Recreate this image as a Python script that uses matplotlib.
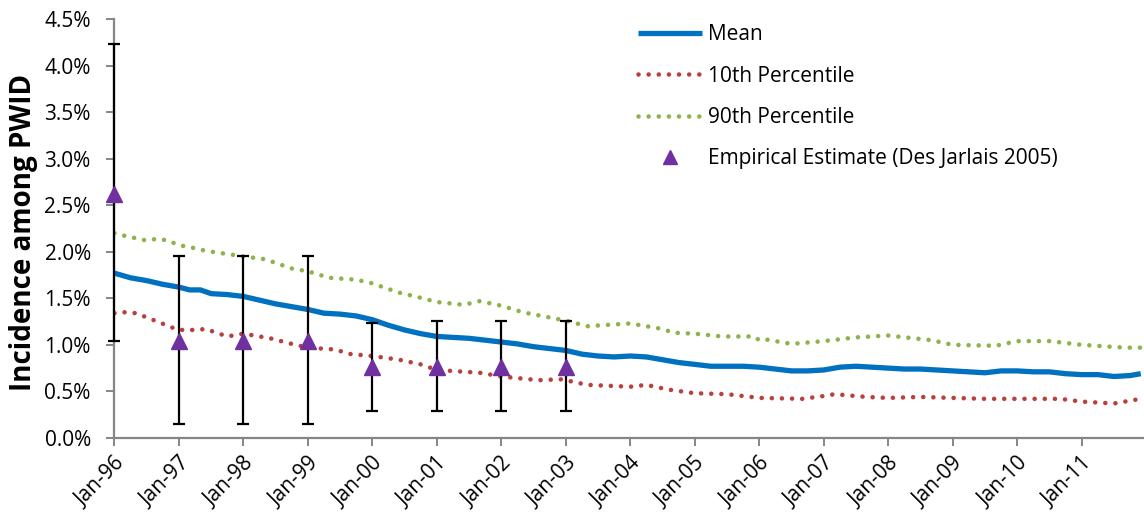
import matplotlib

matplotlib.use("Agg")
import matplotlib.pyplot as plt
from matplotlib.ticker import FuncFormatter, MultipleLocator

plt.rcParams["font.family"] = ["Open Sans", "DejaVu Sans"]

# months since Jan-1996
mean_month = [0, 3, 6, 9, 12, 14, 16, 18, 21, 24, 27, 30, 33, 36, 39, 42, 45, 48, 51, 54,
              57, 60, 63, 66, 69, 72, 75, 78, 81, 84, 87, 90, 93, 96, 99, 102, 105, 108, 111,
              114, 117, 120, 123, 126, 129, 132, 135, 138, 141, 144, 147, 150, 153, 156, 159,
              162, 165, 168, 171, 174, 177, 180, 183, 186, 189, 191]
mean_val = [1.77, 1.72, 1.69, 1.65, 1.62, 1.59, 1.59, 1.55, 1.54, 1.52, 1.48, 1.44, 1.41, 1.38,
            1.34, 1.33, 1.31, 1.27, 1.21, 1.16, 1.12, 1.09, 1.08, 1.07, 1.05, 1.03, 1.01, 0.98,
            0.96, 0.94, 0.90, 0.88, 0.87, 0.88, 0.87, 0.84, 0.81, 0.79, 0.77, 0.77, 0.77, 0.76,
            0.74, 0.72, 0.72, 0.73, 0.76, 0.77, 0.76, 0.75, 0.74, 0.74, 0.73, 0.72, 0.71, 0.70,
            0.72, 0.72, 0.71, 0.71, 0.69, 0.68, 0.68, 0.66, 0.67, 0.69]

p10_month = [0, 2, 4, 8, 11, 12, 15, 17, 21, 24, 29, 33, 36, 41, 44, 48, 53, 57, 60, 68, 72,
             79, 83, 84, 88, 96, 99, 103, 108, 114, 120, 128, 132, 134, 140, 144, 150, 156,
             162, 168, 176, 180, 186, 190]
p10_val = [1.34, 1.35, 1.34, 1.25, 1.18, 1.16, 1.16, 1.17, 1.09, 1.12, 1.07, 1.01, 0.97, 0.95,
           0.90, 0.88, 0.84, 0.79, 0.73, 0.70, 0.66, 0.62, 0.63, 0.62, 0.57, 0.55, 0.57, 0.52,
           0.48, 0.47, 0.43, 0.42, 0.45, 0.47, 0.44, 0.43, 0.44, 0.43, 0.42, 0.42, 0.42, 0.39,
           0.37, 0.41]

p90_month = [0, 2, 6, 8, 10, 12, 14, 17, 24, 28, 33, 36, 40, 45, 48, 53, 56, 60, 65, 68, 72,
             76, 84, 88, 96, 102, 104, 108, 113, 119, 120, 121, 126, 132, 138, 144, 152, 156,
             164, 168, 174, 180, 188, 191]
p90_val = [2.20, 2.17, 2.12, 2.14, 2.12, 2.07, 2.05, 2.01, 1.95, 1.92, 1.82, 1.79, 1.72, 1.70,
           1.66, 1.56, 1.52, 1.46, 1.43, 1.47, 1.42, 1.35, 1.26, 1.20, 1.23, 1.17, 1.13, 1.12,
           1.09, 1.09, 1.05, 1.06, 1.01, 1.04, 1.08, 1.10, 1.05, 1.00, 0.99, 1.04, 1.04, 1.00,
           0.97, 0.97]

# Des Jarlais 2005 estimates with ranges
emp_month = [0, 12, 24, 36, 48, 60, 72, 84]
emp_val = [2.62, 1.04, 1.04, 1.04, 0.76, 0.76, 0.76, 0.76]
emp_low = [1.04, 0.15, 0.15, 0.15, 0.29, 0.29, 0.29, 0.29]
emp_high = [4.23, 1.95, 1.95, 1.95, 1.23, 1.26, 1.26, 1.26]

tick_labels = ["Jan-96", "Jan-97", "Jan-98", "Jan-99", "Jan-00", "Jan-01", "Jan-02", "Jan-03",
               "Jan-04", "Jan-05", "Jan-06", "Jan-07", "Jan-08", "Jan-09", "Jan-10", "Jan-11"]

fig = plt.figure(figsize=(11.44, 5.14), dpi=100)
ax = fig.add_axes([0.1, 0.148, 0.9, 0.815])

dots = (0, (0.01, 2.2))
ax.plot(mean_month, mean_val, color="#0070C0", lw=3.8, label="Mean", solid_capstyle="butt")
ax.plot(p10_month, p10_val, color="#B8413E", lw=3.3, linestyle=dots, dash_capstyle="round",
        label="10th Percentile")
ax.plot(p90_month, p90_val, color="#8DB34A", lw=3.3, linestyle=dots, dash_capstyle="round",
        label="90th Percentile")

yerr = [[v - lo for v, lo in zip(emp_val, emp_low)], [hi - v for v, hi in zip(emp_val, emp_high)]]
eb = ax.errorbar(emp_month, emp_val, yerr=yerr, fmt="none", ecolor="black", elinewidth=1.6,
                 capsize=4, capthick=1.6, zorder=4)
for part in eb.lines[1] + eb.lines[2]:
    part.set_clip_on(False)
ax.plot(emp_month, emp_val, "^", color="#7030A0", ms=12, ls="none", zorder=5, clip_on=False,
        label="Empirical Estimate (Des Jarlais 2005)")

ax.set_xlim(0, 191.6)
ax.set_ylim(0, 4.5)
ax.yaxis.set_major_locator(MultipleLocator(0.5))
ax.yaxis.set_major_formatter(FuncFormatter(lambda v, _: f"{v:.1f}%"))
ax.set_xticks(range(0, 192, 12))
ax.set_xticklabels(tick_labels, rotation=45, ha="right", rotation_mode="anchor")

for s in ["top", "right"]:
    ax.spines[s].set_visible(False)
for s in ["left", "bottom"]:
    ax.spines[s].set_color("#868686")
    ax.spines[s].set_linewidth(1.6)
ax.tick_params(axis="both", colors="#868686", labelcolor="black", labelsize=15,
               length=6, width=1.4)
ax.tick_params(axis="y", pad=11)
ax.tick_params(axis="x", pad=5)

ax.set_ylabel("Incidence among PWID", fontsize=20, fontweight="bold")
ax.yaxis.set_label_coords(-0.074, 0.49)

leg = ax.legend(loc="upper left", bbox_to_anchor=(0.549, 0.973), bbox_transform=fig.transFigure,
                frameon=False, fontsize=15, handlelength=3.07, handletextpad=0.29,
                labelspacing=0.975, borderpad=0)
leg.legend_handles[3].set_markersize(10)

fig.savefig("out.png", dpi=100)
